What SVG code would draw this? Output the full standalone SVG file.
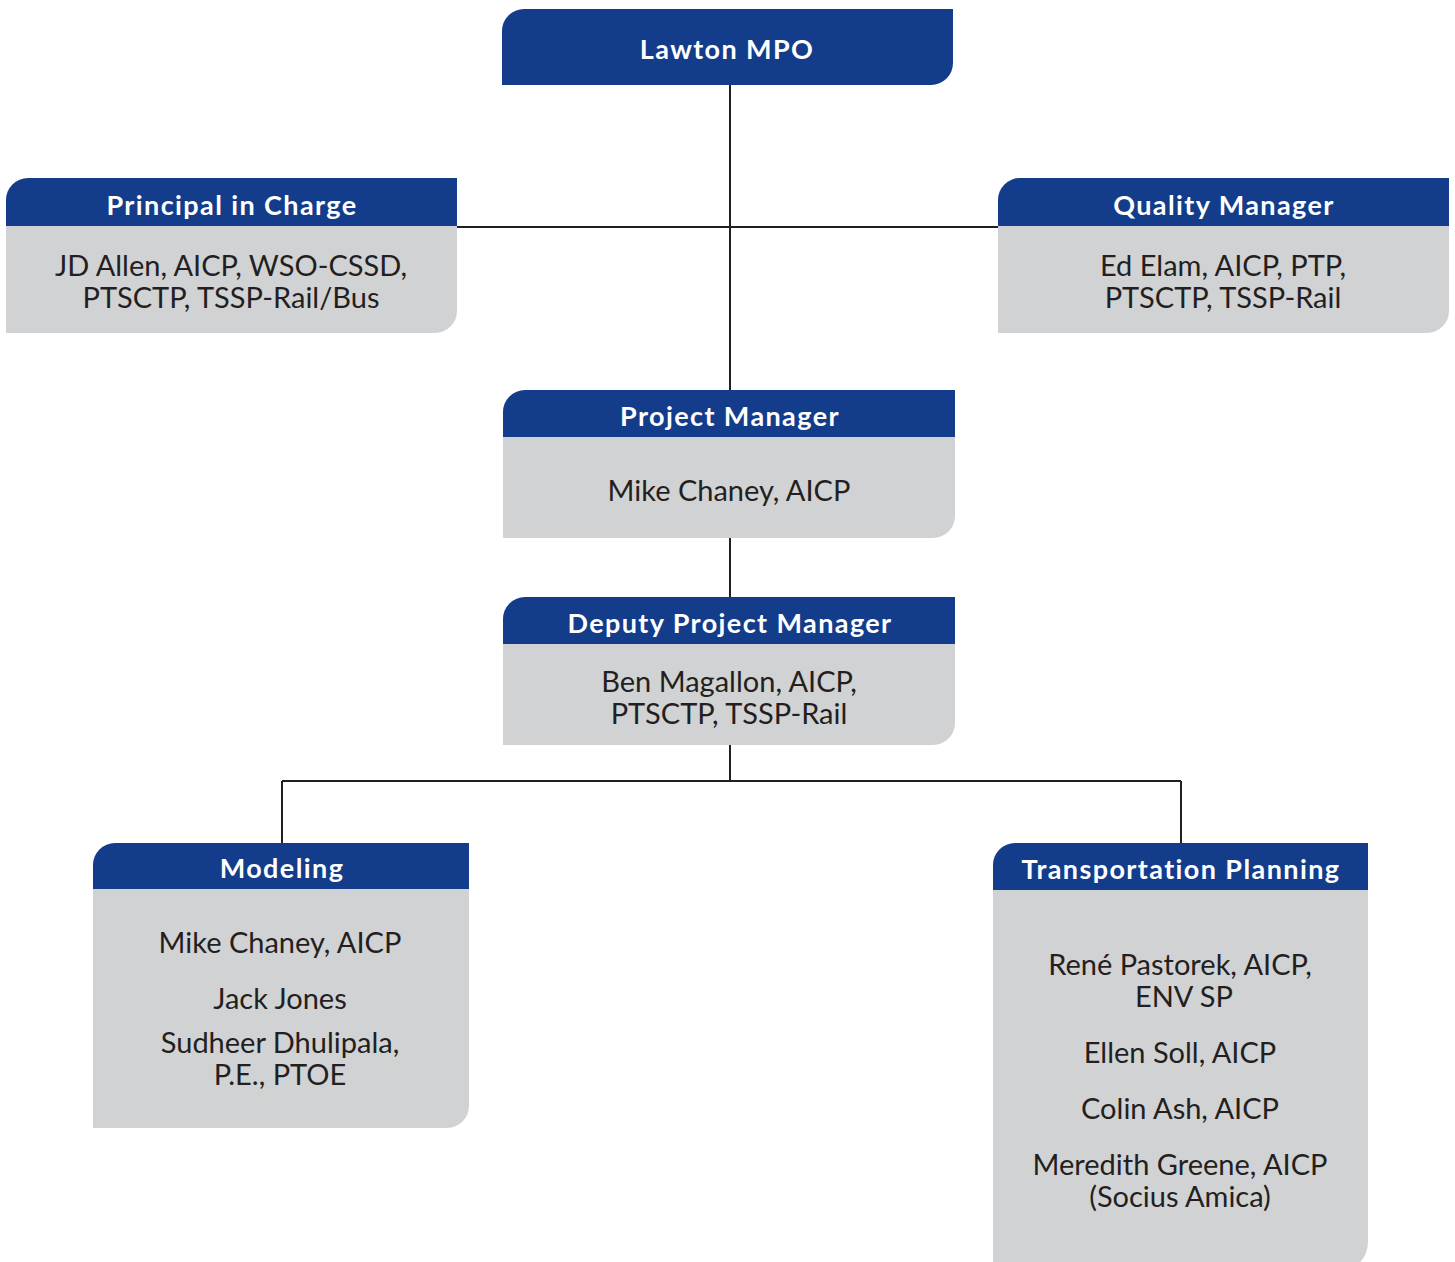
<svg xmlns="http://www.w3.org/2000/svg" width="1455" height="1262" viewBox="0 0 1455 1262">
<style>
.hd{fill:#133c8b}
.bd{fill:#d1d2d4}
.ht{font-family:Lato,"Liberation Sans",sans-serif;font-weight:bold;font-size:27px;letter-spacing:1.4px;fill:#fff;text-anchor:middle}
.bt{font-family:Lato,"Liberation Sans",sans-serif;font-size:29px;fill:#231f20;text-anchor:middle}
.ln{stroke:#231f20;stroke-width:2;fill:none}
</style>
<rect width="1455" height="1262" fill="#fff"/>
<g id="connectors">
<path class="ln" d="M730 85V390M457 227H998M730 538V597M730 745V781M282 781H1181M282 781V843M1181 781V843"/>
</g>
<g id="lawton">
<path class="hd" d="M502 85V31A22 22 0 0 1 524 9H953V63A22 22 0 0 1 931 85Z"/>
<text class="ht" x="727" y="59">Lawton MPO</text>
</g>
<g id="principal">
<path class="bd" d="M6 226H457V311A22 22 0 0 1 435 333H6Z"/>
<path class="hd" d="M6 226V200A22 22 0 0 1 28 178H457V226Z"/>
<text class="ht" x="232" y="215">Principal in Charge</text>
<text class="bt" x="231" y="276">JD Allen, AICP, WSO-CSSD,</text>
<text class="bt" x="231" y="308">PTSCTP, TSSP-Rail/Bus</text>
</g>
<g id="quality">
<path class="bd" d="M998 226H1449V311A22 22 0 0 1 1427 333H998Z"/>
<path class="hd" d="M998 226V200A22 22 0 0 1 1020 178H1449V226Z"/>
<text class="ht" x="1224" y="215">Quality Manager</text>
<text class="bt" x="1223" y="276">Ed Elam, AICP, PTP,</text>
<text class="bt" x="1223" y="308">PTSCTP, TSSP-Rail</text>
</g>
<g id="pm">
<path class="bd" d="M503 437H955V516A22 22 0 0 1 933 538H503Z"/>
<path class="hd" d="M503 437V412A22 22 0 0 1 525 390H955V437Z"/>
<text class="ht" x="730" y="426">Project Manager</text>
<text class="bt" x="729" y="501">Mike Chaney, AICP</text>
</g>
<g id="deputy">
<path class="bd" d="M503 644H955V723A22 22 0 0 1 933 745H503Z"/>
<path class="hd" d="M503 644V619A22 22 0 0 1 525 597H955V644Z"/>
<text class="ht" x="730" y="633">Deputy Project Manager</text>
<text class="bt" x="729" y="692">Ben Magallon, AICP,</text>
<text class="bt" x="729" y="724">PTSCTP, TSSP-Rail</text>
</g>
<g id="modeling">
<path class="bd" d="M93 889H469V1106A22 22 0 0 1 447 1128H93Z"/>
<path class="hd" d="M93 889V865A22 22 0 0 1 115 843H469V889Z"/>
<text class="ht" x="282" y="878">Modeling</text>
<text class="bt" x="280" y="953">Mike Chaney, AICP</text>
<text class="bt" x="280" y="1009">Jack Jones</text>
<text class="bt" x="280" y="1053">Sudheer Dhulipala,</text>
<text class="bt" x="280" y="1085">P.E., PTOE</text>
</g>
<g id="transportation">
<path class="bd" d="M993 890H1368V1242A30 30 0 0 1 1338 1272H993Z"/>
<path class="hd" d="M993 890V865A22 22 0 0 1 1015 843H1368V890Z"/>
<text class="ht" x="1181" y="879">Transportation Planning</text>
<text class="bt" x="1180" y="975">René Pastorek, AICP,</text>
<text class="bt" x="1184" y="1007">ENV SP</text>
<text class="bt" x="1180" y="1063">Ellen Soll, AICP</text>
<text class="bt" x="1180" y="1119">Colin Ash, AICP</text>
<text class="bt" x="1180" y="1175">Meredith Greene, AICP</text>
<text class="bt" x="1180" y="1207">(Socius Amica)</text>
</g>
</svg>
